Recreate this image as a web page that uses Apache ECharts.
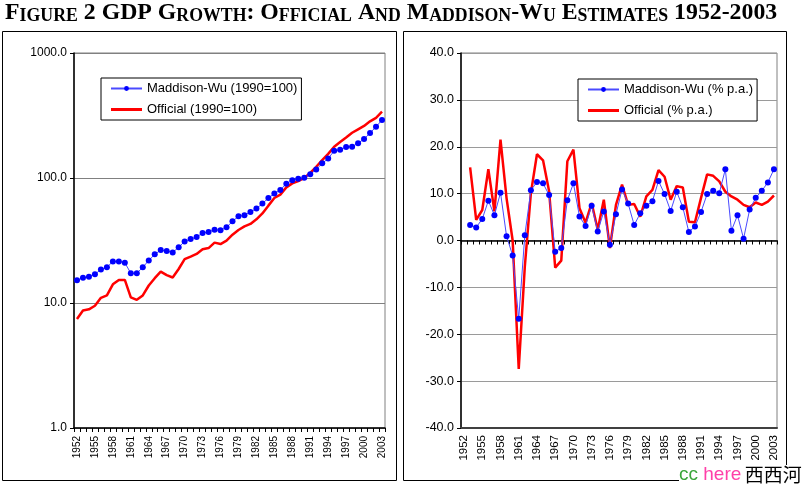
<!DOCTYPE html>
<html><head><meta charset="utf-8">
<script src="https://cdn.jsdelivr.net/npm/echarts@6/dist/echarts.min.js"></script>
<style>html,body{margin:0;padding:0;background:#fff}#c{width:802px;height:489px}</style>
</head><body><div id="c"></div>
<script>
const years = ['1952','1953','1954','1955','1956','1957','1958','1959','1960','1961',
  '1962','1963','1964','1965','1966','1967','1968','1969','1970','1971',
  '1972','1973','1974','1975','1976','1977','1978','1979','1980','1981',
  '1982','1983','1984','1985','1986','1987','1988','1989','1990','1991',
  '1992','1993','1994','1995','1996','1997','1998','1999','2000','2001',
  '2002','2003'];
const mwIndex = [15.2,15.9,16.2,17.0,18.5,19.3,21.5,21.5,21.0,17.3,
  17.3,19.3,21.9,24.5,26.5,26.1,25.4,27.9,31.1,32.5,
  33.7,36.3,37.0,38.6,38.2,40.3,45.0,49.4,50.3,53.5,
  56.9,62.4,69.2,75.0,80.2,90.1,95.8,98.8,100.5,107,
  117,131,143,165,168,177,178,190,205,229,
  257,291];
const officialIndex = [7.45,8.7,8.9,9.5,11.0,11.5,14.1,15.3,15.3,11.1,
  10.6,11.5,13.8,15.8,17.8,16.7,16.0,18.7,22.4,23.5,
  24.7,26.9,27.5,30.4,29.6,31.5,35.2,38.4,41.0,42.9,
  46.7,52.1,60.1,69.2,73.6,84.2,90.6,94.6,100,110,
  123,139,156,178,194,211,230,245,261,284,
  303,339];
const mwGrowth = [null,3.3,2.8,4.6,8.5,5.4,10.2,0.9,-3.2,-16.7,
  1.1,10.7,12.5,12.2,9.7,-2.4,-1.6,8.6,12.2,5.1,
  3.1,7.4,1.9,6.2,-0.9,5.6,10.9,7.9,3.3,5.8,
  7.4,8.4,12.7,9.9,6.3,10.4,7.1,1.8,3.0,6.1,
  9.9,10.6,10.1,15.2,2.1,5.4,0.4,6.6,9.1,10.6,
  12.4,15.2];
const officialGrowth = [null,15.6,4.4,6.5,15.2,6.2,21.5,9.0,0.0,-27.4,
  -5.6,10.1,18.4,17.1,10.5,-5.8,-4.3,16.9,19.4,6.9,
  3.8,8.0,2.3,8.7,-1.6,7.6,11.9,7.6,7.8,5.1,
  9.4,10.8,15.0,13.6,8.7,11.6,11.3,4.0,3.9,9.1,
  14.1,13.8,12.6,10.4,9.4,8.7,7.6,7.1,8.1,7.6,
  8.3,9.6];
const leftTicks = [1, 10, 100, 1000];
const rightTicks = [-40, -30, -20, -10, 0, 10, 20, 30, 40];
const seriesNames = ['Maddison-Wu (1990=100)','Official (1990=100)','Maddison-Wu (% p.a.)','Official (% p.a.)'];

const font = 'Liberation Sans, Arial, sans-serif';
const serif = 'Liberation Serif, Times New Roman, serif';
const chart = echarts.init(document.getElementById('c'), null, {renderer:'canvas'});

const catAxisBase = (grid) => ({
  gridIndex: grid, type:'category', data: years, boundaryGap: true, position:'bottom'
});
const lineIcon = 'path://M0,0 L31,0 L31,3 L0,3 Z';
const legendBase = {
  orient:'vertical', padding:[3,4,3,9], itemGap:6, itemWidth:31, itemHeight:6,
  borderColor:'#000', borderWidth:1, backgroundColor:'#fff', borderRadius:0,
  symbolKeepAspect:true,
  textStyle:{fontSize:13, color:'#000', fontFamily:font, lineHeight:15}, selectedMode:false
};

const option = {
  animation: false,
  backgroundColor: '#fff',
  grid: [
    {left:74, top:53, width:311, height:375, show:true, borderColor:'#808080', borderWidth:1, backgroundColor:'rgba(0,0,0,0)'},
    {left:461, top:53, width:316, height:375, show:true, borderColor:'#808080', borderWidth:1, backgroundColor:'rgba(0,0,0,0)'}
  ],
  xAxis: [
    Object.assign(catAxisBase(0), {
      axisLine:{show:true, onZero:false, lineStyle:{color:'#000', width:1.5}},
      axisTick:{show:true, interval:0, length:4, lineStyle:{color:'#000'}},
      axisLabel:{interval:2, rotate:90, fontSize:10, color:'#000', fontFamily:font, margin:8},
      splitLine:{show:false}
    }),
    Object.assign(catAxisBase(1), {
      axisLine:{show:true, onZero:false, lineStyle:{color:'#404040', width:2}},
      axisTick:{show:false},
      axisLabel:{interval:2, rotate:90, fontSize:11.5, color:'#000', fontFamily:font, margin:7},
      splitLine:{show:false}
    }),
    Object.assign(catAxisBase(1), {
      axisLine:{show:true, onZero:true, lineStyle:{color:'#000', width:1.5}},
      axisTick:{show:true, interval:0, length:4, lineStyle:{color:'#000'}},
      axisLabel:{show:false},
      splitLine:{show:false}
    })
  ],
  yAxis: [
    {gridIndex:0, type:'log', logBase:10, min:leftTicks[0], max:leftTicks[leftTicks.length-1],
     axisLine:{show:true, lineStyle:{color:'#000', width:1.5}},
     axisTick:{show:true, length:4, lineStyle:{color:'#000'}},
     axisLabel:{fontSize:12, color:'#000', fontFamily:font, margin:7, formatter:v => Number(v).toFixed(1)},
     splitLine:{show:true, lineStyle:{color:'#808080', width:1}},
     minorTick:{show:false}},
    {gridIndex:1, type:'value', min:rightTicks[0], max:rightTicks[rightTicks.length-1], interval:10,
     axisLine:{show:true, lineStyle:{color:'#000', width:1.5}},
     axisTick:{show:true, length:4, lineStyle:{color:'#000'}},
     axisLabel:{fontSize:12.5, color:'#000', fontFamily:font, margin:7, formatter:v => Number(v).toFixed(1)},
     splitLine:{show:true, lineStyle:{color:'#9a9a9a', width:1}}}
  ],
  legend: [
    Object.assign({}, legendBase, {left:101, top:78,
      data:[{name:seriesNames[0]}, {name:seriesNames[1], icon:lineIcon}]}),
    Object.assign({}, legendBase, {left:578, top:79,
      data:[{name:seriesNames[2]}, {name:seriesNames[3], icon:lineIcon}]})
  ],
  series: [
    {name:seriesNames[1], type:'line', xAxisIndex:0, yAxisIndex:0, data:officialIndex,
     symbol:'none', lineStyle:{color:'#ff0000', width:2.5}, itemStyle:{color:'#ff0000'}, z:2},
    {name:seriesNames[0], type:'line', xAxisIndex:0, yAxisIndex:0, data:mwIndex,
     symbol:'circle', symbolSize:6, showAllSymbol:true,
     lineStyle:{color:'#4a4aff', width:1}, itemStyle:{color:'#0000ff'}, z:3},
    {name:seriesNames[3], type:'line', xAxisIndex:1, yAxisIndex:1, data:officialGrowth,
     symbol:'none', lineStyle:{color:'#ff0000', width:2.5}, itemStyle:{color:'#ff0000'}, z:2},
    {name:seriesNames[2], type:'line', xAxisIndex:1, yAxisIndex:1, data:mwGrowth,
     symbol:'circle', symbolSize:6, showAllSymbol:true,
     lineStyle:{color:'#4a4aff', width:1}, itemStyle:{color:'#0000ff'}, z:3}
  ],
  graphic: [
    {type:'rect', shape:{x:2.5, y:31.5, width:394, height:449}, style:{fill:'none', stroke:'#000', lineWidth:1}, z:-10, silent:true},
    {type:'rect', shape:{x:403.5, y:31.5, width:383, height:449}, style:{fill:'none', stroke:'#000', lineWidth:1}, z:-10, silent:true},
    {type:'text', left:5, top:1, z:10, silent:true,
     style:{
       text:'{B|F}{S|IGURE}{B| 2 GDP G}{S|ROWTH}{B|: O}{S|FFICIAL}{B| A}{S|ND}{B| M}{S|ADDISON}{B|-W}{S|U}{B| E}{S|STIMATES}{B| 1952-2003}',
       rich:{
         B:{fontSize:23.8, fontWeight:'bold', fontFamily:serif, fill:'#000', verticalAlign:'bottom', lineHeight:25},
         S:{fontSize:17.8, fontWeight:'bold', fontFamily:serif, fill:'#000', verticalAlign:'bottom', lineHeight:25}
       }
     }},
    {type:'text', left:679, top:465, z:20, silent:true,
     style:{
       text:'{g|cc}{p| here} {k|西西河}',
       backgroundColor:'#fff',
       rich:{
         g:{fontSize:19, fontFamily:font, fill:'#3aa63a'},
         p:{fontSize:19, fontFamily:font, fill:'#ff3fa8'},
         k:{fontSize:19, fontFamily:'Noto Sans CJK SC', fill:'#000'}
       }
     }}
  ]
};
chart.setOption(option);
</script>
</body></html>
